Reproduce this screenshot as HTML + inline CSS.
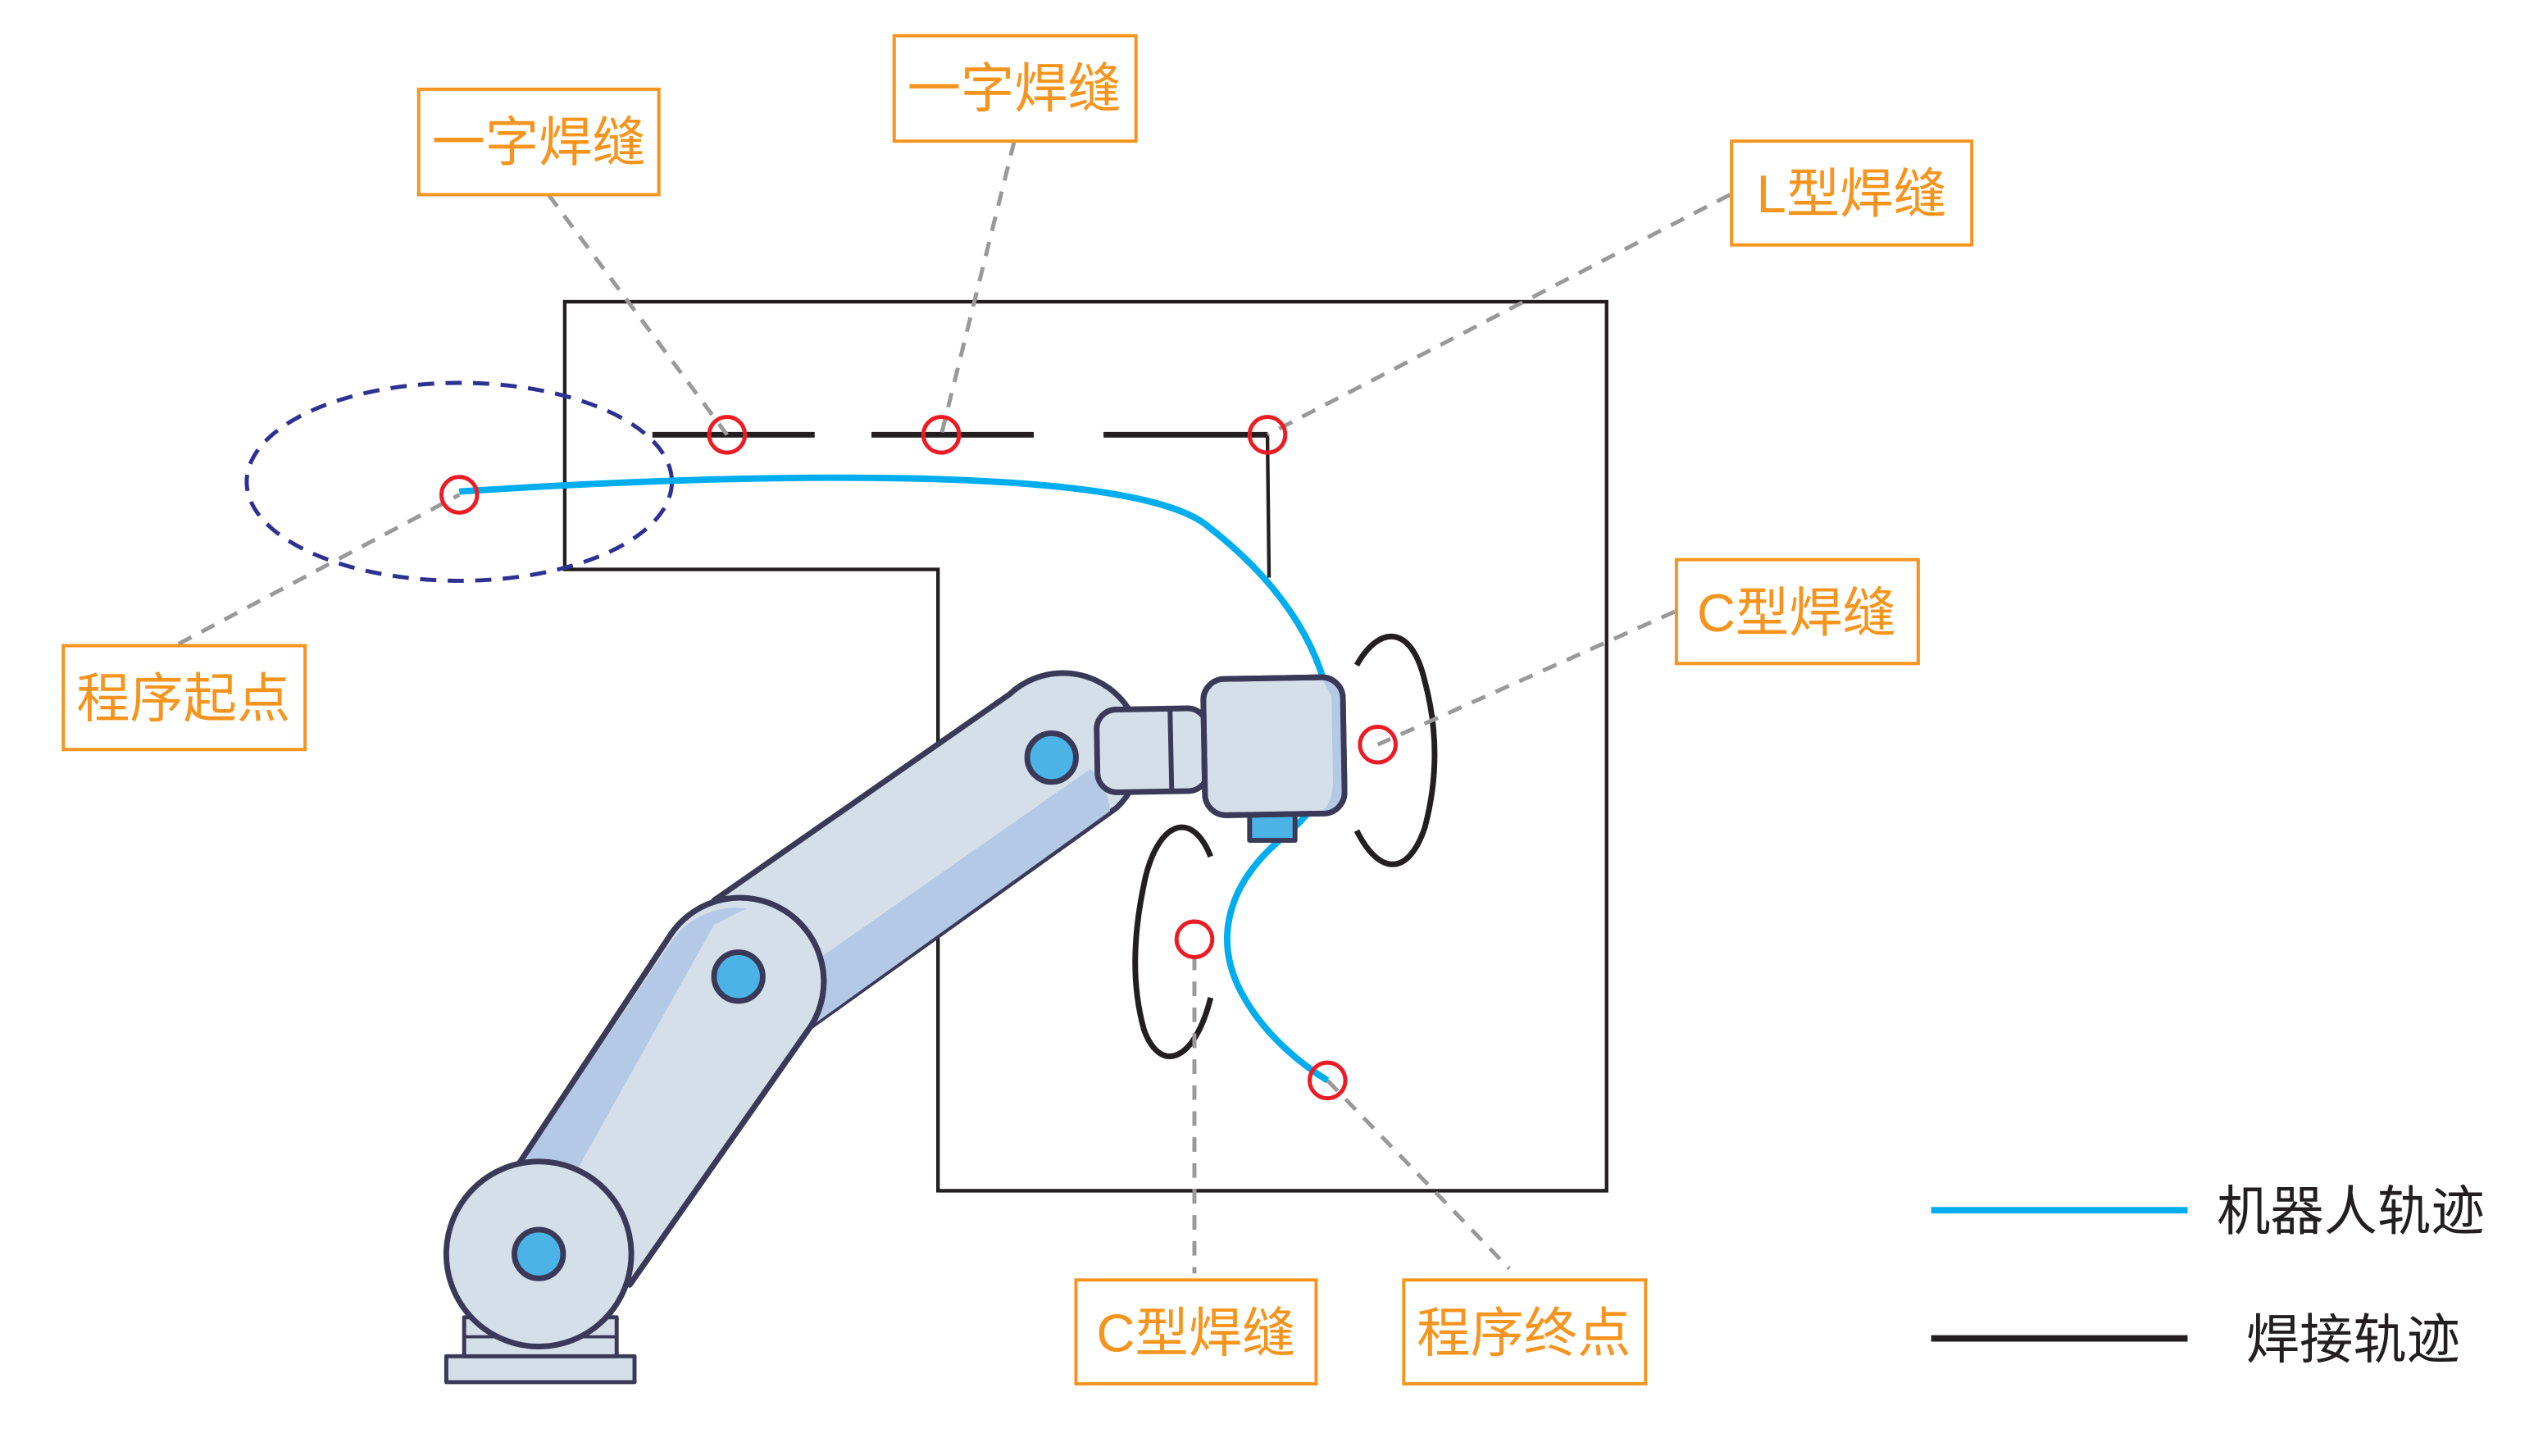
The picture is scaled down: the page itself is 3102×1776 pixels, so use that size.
<!DOCTYPE html>
<html><head><meta charset="utf-8"><style>
html,body{margin:0;padding:0;background:#fff;}
svg{display:block;}
text{font-family:"Liberation Sans","Noto Sans CJK SC",sans-serif;}
</style></head><body>
<svg width="3102" height="1776" viewBox="0 0 1567 897.5" preserveAspectRatio="none" xmlns="http://www.w3.org/2000/svg">
<path d="M348,186 H990 V734 H578 V351 H348 Z" fill="none" stroke="#231f20" stroke-width="2.2"/>
<ellipse cx="283" cy="297" rx="131" ry="61" fill="none" stroke="#2e3192" stroke-width="2.5" stroke-dasharray="10 7"/>
<g stroke="#231f20" stroke-width="3.5" fill="none">
<line x1="402" y1="268" x2="502" y2="268"/>
<line x1="537" y1="268" x2="637" y2="268"/>
<line x1="680" y1="268" x2="781" y2="268"/>
<line x1="781" y1="268" x2="782" y2="356" stroke-width="2.2"/>
<path d="M836,410 C850,385 870,385 878,420 C886,450 886,480 878,510 C868,540 850,540 836,512"/>
<path d="M746,528 C735,500 715,505 706,540 C697,580 698,610 705,635 C715,662 736,655 746,615"/>
</g>
<g stroke="#999" stroke-width="2.5" stroke-dasharray="9 7" fill="none">
<line x1="338" y1="120" x2="448" y2="268"/>
<line x1="625" y1="87" x2="580" y2="268"/>
<line x1="1066" y1="120" x2="781" y2="268"/>
<line x1="1032" y1="377" x2="849" y2="459"/>
<line x1="110" y1="397" x2="283" y2="305"/>
<line x1="736" y1="589" x2="736" y2="785"/>
<line x1="818" y1="666" x2="930" y2="782"/>
</g>
<path d="M283,303 C450,292 700,285 745,325 C790,360 815,400 820,440 C825,480 810,500 792,515 C755,545 748,580 765,612 C780,640 805,658 818,666" fill="none" stroke="#00aeef" stroke-width="4"/>
<g stroke="#3a3a58" stroke-width="3.5" stroke-linejoin="round">
<rect x="275" y="836" width="116" height="16" fill="#d5dfe9" stroke-width="2.5"/>
<rect x="286" y="812" width="94" height="24" fill="#d5dfe9" stroke-width="2.5"/>
<line x1="286" y1="824" x2="380" y2="824" stroke-width="2"/>
<path d="M440,555 L622,428 A46,46 0 0 1 688,498 L495,636 Z" fill="#d5dfe9"/>
<path d="M470,615 L672,474 A40,40 0 0 1 684,500 L495,636 Z" fill="#b3c9e5" stroke="none"/>
<circle cx="648" cy="467" r="15" fill="#4bb3e6"/>
<path d="M318,720 L412,578 A48,48 0 0 1 500,632 L388,792 Z" fill="#d5dfe9"/>
<path d="M322,716 L414,580 A48,48 0 0 1 460,560 L440,570 L345,740 Z" fill="#b3c9e5" stroke="none"/>
<path d="M318,720 L412,578 A48,48 0 0 1 500,632 L388,792" fill="none"/>
<circle cx="455" cy="602" r="15" fill="#4bb3e6"/>
<circle cx="332" cy="773" r="57" fill="#d5dfe9"/>
<circle cx="332" cy="773" r="15" fill="#4bb3e6"/>
<rect x="676" y="437" width="68" height="51" rx="12" fill="#d5dfe9" transform="rotate(-1 710 462)"/>
<line x1="721" y1="438" x2="722" y2="487" stroke-width="3"/>
<rect x="770" y="500" width="28" height="18" fill="#4bb3e6" stroke-width="3"/>
<g transform="rotate(-1 785 460)">
<rect x="742" y="418" width="86" height="84" rx="13" fill="#d5dfe9"/>
<path d="M816,420 A13,13 0 0 1 828,432 V488 A13,13 0 0 1 814,501 C820,495 821,488 821,480 V430 Z" fill="#b3c9e5" stroke="none"/>
<rect x="742" y="418" width="86" height="84" rx="13" fill="none"/>
</g>
</g>
<g fill="none" stroke="#ed1c24" stroke-width="2.5">
<circle cx="448" cy="268" r="11"/>
<circle cx="580" cy="268" r="11"/>
<circle cx="781" cy="268" r="11"/>
<circle cx="283" cy="305" r="11"/>
<circle cx="849" cy="459" r="11"/>
<circle cx="736" cy="579" r="11"/>
<circle cx="818" cy="666" r="11"/>
</g>
<g fill="#fff" stroke="#f7941d" stroke-width="2">
<rect x="258" y="55" width="148" height="65"/>
<rect x="551" y="22" width="149" height="65"/>
<rect x="1067" y="87" width="148" height="64"/>
<rect x="1033" y="345" width="149" height="64"/>
<rect x="39" y="398" width="149" height="64"/>
<rect x="663" y="789" width="148" height="64"/>
<rect x="865" y="789" width="149" height="64"/>
</g>
<g fill="#f7941d" font-size="33" text-anchor="middle">
<text x="332" y="99">一字焊缝</text>
<text x="625" y="66">一字焊缝</text>
<text x="1141" y="131">L型焊缝</text>
<text x="1107" y="389">C型焊缝</text>
<text x="113" y="442">程序起点</text>
<text x="737" y="833">C型焊缝</text>
<text x="939" y="833">程序终点</text>
</g>
<line x1="1190" y1="746" x2="1348" y2="746" stroke="#00aeef" stroke-width="4"/>
<line x1="1190" y1="825" x2="1348" y2="825" stroke="#231f20" stroke-width="4"/>
<g fill="#231f20" font-size="33">
<text x="1366" y="758">机器人轨迹</text>
<text x="1384" y="837">焊接轨迹</text>
</g>
</svg>
</body></html>
